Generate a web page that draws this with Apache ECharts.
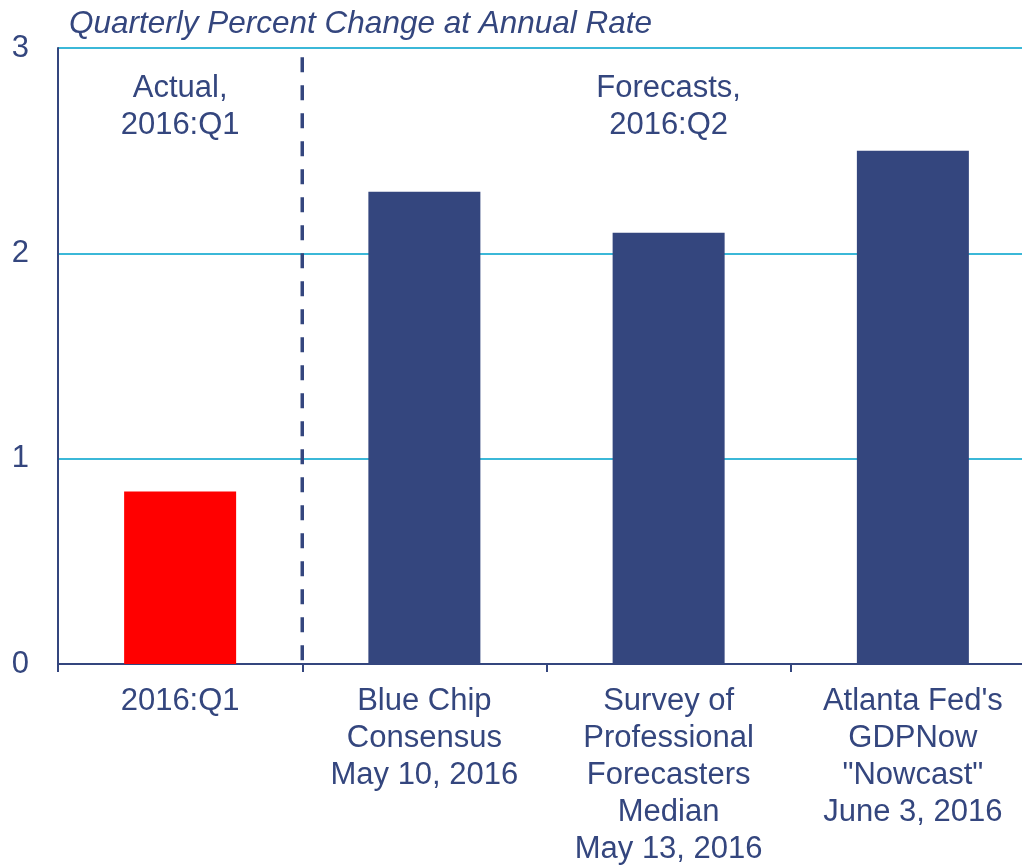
<!DOCTYPE html>
<html>
<head>
<meta charset="utf-8">
<script src="https://cdn.jsdelivr.net/npm/echarts@6/dist/echarts.min.js"></script>
<style>
  html, body { margin: 0; padding: 0; background: #fff; }
  #chart { width: 1022px; height: 865px; }
</style>
</head>
<body>
<div id="chart"></div>
<script>
var categories = ['2016:Q1', 'Blue Chip\nConsensus\nMay 10, 2016', 'Survey of\nProfessional\nForecasters\nMedian\nMay 13, 2016', "Atlanta Fed's\nGDPNow\n\"Nowcast\"\nJune 3, 2016"];
var values = [0.84, 2.3, 2.1, 2.5];
var barColors = ['#ff0000', '#34467e', '#34467e', '#34467e'];
var yTicks = [0, 1, 2, 3];
// divider between actual and forecasts, on a hidden 0..4 axis
var dividerLine = [[1, 2.955], [1, -0.015]];
var notes = [
    {x: 0.5, y: 2.715, text: 'Actual,\n2016:Q1'},
    {x: 2.5, y: 2.715, text: 'Forecasts,\n2016:Q2'}
];

var navy = '#34467e';
var chart = echarts.init(document.getElementById('chart'));

var option = {
    animation: false,
    textStyle: { fontFamily: 'Liberation Sans, Arial, sans-serif' },
    title: {
        text: 'Quarterly Percent Change at Annual Rate',
        left: 64,
        top: 3,
        textStyle: { fontSize: 31.5, fontStyle: 'italic', fontWeight: 'normal', color: navy }
    },
    grid: { left: 58, right: -13, top: 48, bottom: 201, containLabel: false, outerBoundsMode: 'none' },
    xAxis: [{
        type: 'category',
        data: categories,
        axisLine: { lineStyle: { color: navy, width: 2 } },
        axisTick: { show: true, length: 8, lineStyle: { color: navy, width: 2 } },
        axisLabel: { color: navy, fontSize: 31, lineHeight: 37, margin: 19, interval: 0 }
    }, {
        type: 'value',
        min: 0,
        max: 4,
        show: false
    }],
    yAxis: {
        type: 'value',
        min: yTicks[0],
        max: yTicks[yTicks.length - 1],
        interval: 1,
        axisLine: { show: true, lineStyle: { color: navy, width: 2 } },
        axisTick: { show: false },
        splitLine: { lineStyle: { color: '#3bb8d8', width: 2 } },
        axisLabel: { color: navy, fontSize: 31, margin: 29 }
    },
    series: [{
        type: 'bar',
        xAxisIndex: 0,
        barWidth: 112,
        data: values.map(function (v, i) {
            return { value: v, itemStyle: { color: barColors[i] } };
        })
    }, {
        type: 'line',
        xAxisIndex: 1,
        data: dividerLine,
        symbol: 'none',
        lineStyle: { color: navy, width: 3.5, type: [15, 13] },
        z: 5
    }, {
        type: 'scatter',
        xAxisIndex: 1,
        symbolSize: 0,
        itemStyle: { opacity: 1 },
        data: notes.map(function (n) { return { value: [n.x, n.y], name: n.text }; }),
        label: {
            show: true,
            position: 'inside',
            formatter: '{b}',
            color: navy,
            textBorderWidth: 0,
            fontSize: 31,
            lineHeight: 37,
            align: 'center'
        }
    }]
};

chart.setOption(option);
</script>
</body>
</html>
